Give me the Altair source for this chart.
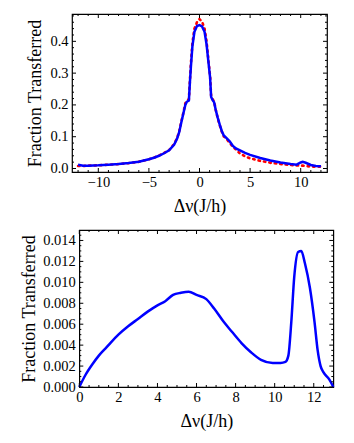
import altair as alt
import pandas as pd

# ---------------- data ----------------
top_x = [-12, -11.5, -11, -10, -9, -8, -7, -6, -5, -4.5,
         -4, -3.5, -3, -2.5, -2.2, -2.0, -1.8, -1.6, -1.4, -1.25,
         -1.05, -0.95, -0.85, -0.7, -0.5, -0.25, 0, 0.25, 0.5, 0.7,
         0.9, 1.05, 1.15, 1.3, 1.45, 1.6, 1.8, 2.0, 2.2, 2.4,
         2.7, 3.0, 3.3, 3.6, 4.0, 4.5, 5.0, 6.0, 7.0, 8.0,
         9.0, 9.6, 10.0, 10.2, 10.5, 11.0, 11.5, 12.0]
top_blue = [0.012, 0.009, 0.009, 0.010, 0.012, 0.014, 0.017, 0.021, 0.029, 0.034,
            0.040, 0.048, 0.057, 0.075, 0.095, 0.115, 0.145, 0.172, 0.200, 0.210,
            0.214, 0.270, 0.320, 0.385, 0.430, 0.448, 0.451, 0.447, 0.430, 0.390,
            0.330, 0.285, 0.225, 0.215, 0.208, 0.185, 0.160, 0.138, 0.118, 0.104,
            0.095, 0.085, 0.071, 0.063, 0.057, 0.049, 0.043, 0.033, 0.025, 0.019,
            0.014, 0.012, 0.019, 0.021, 0.018, 0.011, 0.008, 0.007]
top_red = [0.008, 0.008, 0.009, 0.010, 0.012, 0.014, 0.017, 0.021, 0.029, 0.034,
           0.041, 0.049, 0.058, 0.077, 0.097, 0.118, 0.147, 0.175, 0.205, 0.213,
           0.218, 0.275, 0.330, 0.395, 0.440, 0.460, 0.470, 0.462, 0.440, 0.400,
           0.335, 0.290, 0.228, 0.218, 0.210, 0.185, 0.158, 0.136, 0.116, 0.101,
           0.092, 0.080, 0.068, 0.060, 0.047, 0.038, 0.032, 0.024, 0.018, 0.014,
           0.011, 0.0095, 0.009, 0.009, 0.008, 0.006, 0.006, 0.006]

bot_x = [0, 0.3, 0.68, 1.0, 1.4, 2.0, 2.5, 3.0, 3.5, 4.0,
         4.4, 4.8, 5.2, 5.6, 6.0, 6.5, 6.9, 7.4, 7.8, 8.3,
         8.8, 9.3, 9.9, 10.3, 10.55, 10.7, 10.85, 11.0, 11.2, 11.36,
         11.55, 11.8, 12.04, 12.2, 12.35, 12.5, 12.8, 13.0]
bot_y = [0.0, 0.0011, 0.0022, 0.0030, 0.0038, 0.0050, 0.0058, 0.0065, 0.0072, 0.0078,
         0.0082, 0.0088, 0.0090, 0.0091, 0.0088, 0.0084, 0.0075, 0.0062, 0.0053, 0.0042,
         0.0033, 0.0026, 0.0023, 0.0023, 0.0024, 0.0030, 0.0062, 0.0105, 0.0129, 0.0130,
         0.0118, 0.0095, 0.0062, 0.0035, 0.0020, 0.0014, 0.0007, 0.0]

# tick values
top_x_major = [-10, -5, 0, 5, 10]
top_x_minor = [-12, -11, -9, -8, -7, -6, -4, -3, -2, -1, 1, 2, 3, 4, 6, 7, 8, 9, 11, 12]
top_y_major = [0.0, 0.1, 0.2, 0.3, 0.4]
top_y_minor = [0.02, 0.04, 0.06, 0.08, 0.12, 0.14, 0.16, 0.18, 0.22, 0.24, 0.26, 0.28,
               0.32, 0.34, 0.36, 0.38, 0.42, 0.44, 0.46, 0.48]
bot_x_major = [0, 2, 4, 6, 8, 10, 12]
bot_x_minor = [0.5, 1, 1.5, 2.5, 3, 3.5, 4.5, 5, 5.5, 6.5, 7, 7.5, 8.5, 9, 9.5,
               10.5, 11, 11.5, 12.5]
bot_y_major = [0.0, 0.002, 0.004, 0.006, 0.008, 0.010, 0.012, 0.014]
bot_y_minor = [0.0005, 0.001, 0.0015, 0.0025, 0.003, 0.0035, 0.0045, 0.005, 0.0055,
               0.0065, 0.007, 0.0075, 0.0085, 0.009, 0.0095, 0.0105, 0.011, 0.0115,
               0.0125, 0.013, 0.0135, 0.0145]

FONT = "Liberation Serif, Times New Roman, serif"
XTITLE = "Δν(J/h)"
YTITLE = "Fraction Transferred"


def frame_ticks(xvals, yvals, xsc, ysc, xax, yax, W, H, L):
    dfx = pd.DataFrame({"t": xvals})
    dfy = pd.DataFrame({"t": yvals})
    bx = alt.Chart(dfx).mark_rule(color="black", strokeWidth=1)
    by = alt.Chart(dfy).mark_rule(color="black", strokeWidth=1)
    return [
        bx.encode(x=alt.X("t:Q", scale=xsc, axis=xax), y=alt.value(H), y2=alt.value(H - L)),
        bx.encode(x=alt.X("t:Q", scale=xsc, axis=xax), y=alt.value(0), y2=alt.value(L)),
        by.encode(y=alt.Y("t:Q", scale=ysc, axis=yax), x=alt.value(0), x2=alt.value(L)),
        by.encode(y=alt.Y("t:Q", scale=ysc, axis=yax), x=alt.value(W), x2=alt.value(W - L)),
    ]


# ---------------- top panel ----------------
W1, H1 = 255, 158
xs1 = alt.Scale(domain=[-12.6, 12.6], nice=False, zero=False)
ys1 = alt.Scale(domain=[-0.011, 0.486], nice=False, zero=False)
xa1 = alt.Axis(values=top_x_major, title=XTITLE, labelPadding=3, titlePadding=9)
ya1 = alt.Axis(values=top_y_major, format=".1f", title=YTITLE, labelPadding=4, titlePadding=5)

df_top = pd.DataFrame({"x": top_x, "blue": top_blue, "red": top_red})

red_line = alt.Chart(df_top).mark_line(color="red", strokeWidth=2.6, strokeDash=[1.5, 4],
                                       strokeCap="round").encode(
    x=alt.X("x:Q", scale=xs1, axis=xa1),
    y=alt.Y("red:Q", scale=ys1, axis=ya1),
)
blue_line = alt.Chart(df_top).mark_line(color="blue", strokeWidth=2.5).encode(
    x=alt.X("x:Q", scale=xs1, axis=xa1),
    y=alt.Y("blue:Q", scale=ys1, axis=ya1),
)

top_chart = alt.layer(
    red_line, blue_line,
    *frame_ticks(top_x_major, top_y_major, xs1, ys1, xa1, ya1, W1, H1, 4),
    *frame_ticks(top_x_minor, top_y_minor, xs1, ys1, xa1, ya1, W1, H1, 2),
).properties(width=W1, height=H1)

# ---------------- bottom panel ----------------
W2, H2 = 254, 157
xs2 = alt.Scale(domain=[0, 13], nice=False, zero=False)
ys2 = alt.Scale(domain=[0, 0.015], nice=False, zero=False)
xa2 = alt.Axis(values=bot_x_major, title=XTITLE, labelPadding=3, titlePadding=9)
ya2 = alt.Axis(values=bot_y_major, format=".3f", title=YTITLE, labelPadding=4, titlePadding=4)

df_bot = pd.DataFrame({"x": bot_x, "y": bot_y})
bot_line = alt.Chart(df_bot).mark_line(color="blue", strokeWidth=2.5,
                                       interpolate="monotone").encode(
    x=alt.X("x:Q", scale=xs2, axis=xa2),
    y=alt.Y("y:Q", scale=ys2, axis=ya2),
)

bot_chart = alt.layer(
    bot_line,
    *frame_ticks(bot_x_major, bot_y_major, xs2, ys2, xa2, ya2, W2, H2, 4),
    *frame_ticks(bot_x_minor, bot_y_minor, xs2, ys2, xa2, ya2, W2, H2, 2),
).properties(width=W2, height=H2)

# invisible narrow spacer that shifts the lower panel to the right
spacer = alt.Chart(pd.DataFrame({"s": [0]})).mark_point(opacity=0).encode(
    x=alt.value(0), y=alt.value(0)
).properties(width=1, height=H2, view=alt.ViewBackground(strokeOpacity=0))

bottom_row = alt.hconcat(spacer, bot_chart, spacing=6.3, bounds="flush")

chart = alt.vconcat(top_chart, bottom_row, spacing=58, bounds="flush").properties(
    padding={"left": 12, "top": 4, "right": 2, "bottom": 2}
).configure_view(
    stroke="black", strokeWidth=1.2
).configure_axis(
    grid=False, domain=False, ticks=False, labelFlush=False,
    labelFont=FONT, labelFontSize=14.5, labelColor="black",
    titleFont=FONT, titleFontSize=18, titleFontWeight="normal", titleColor="black",
)

chart.save("out.html", embed_options={"renderer": "svg", "actions": False})
